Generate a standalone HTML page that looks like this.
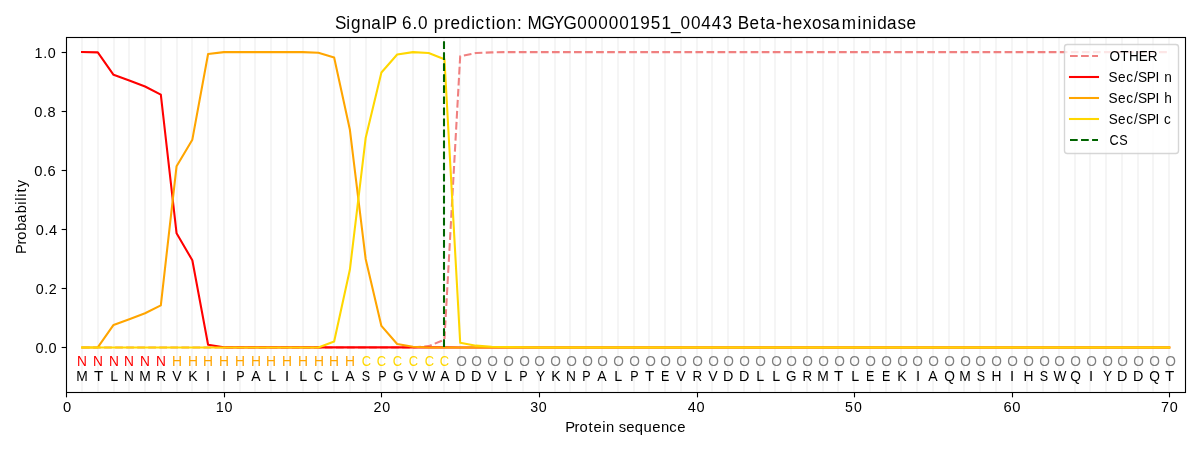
<!DOCTYPE html>
<html><head><meta charset="utf-8"><title>SignalP 6.0 prediction</title>
<style>
html,body{margin:0;padding:0;background:#fff;width:1200px;height:450px;overflow:hidden}
svg{display:block;will-change:transform}
text{font-family:"Liberation Sans",sans-serif;font-kerning:none;white-space:pre}
</style></head><body>
<svg width="1200" height="450" viewBox="0 0 1200 450">
<rect width="1200" height="450" fill="#fff"/>
<defs><clipPath id="ax"><rect x="66.28" y="37.33" width="1118.72" height="354.39"/></clipPath></defs>

<g stroke="#f5f5f5" stroke-width="2.08" clip-path="url(#ax)">
<line x1="82" y1="37.33" x2="82" y2="391.72"/>
<line x1="98" y1="37.33" x2="98" y2="391.72"/>
<line x1="114" y1="37.33" x2="114" y2="391.72"/>
<line x1="129" y1="37.33" x2="129" y2="391.72"/>
<line x1="145" y1="37.33" x2="145" y2="391.72"/>
<line x1="161" y1="37.33" x2="161" y2="391.72"/>
<line x1="177" y1="37.33" x2="177" y2="391.72"/>
<line x1="192" y1="37.33" x2="192" y2="391.72"/>
<line x1="208" y1="37.33" x2="208" y2="391.72"/>
<line x1="224" y1="37.33" x2="224" y2="391.72"/>
<line x1="240" y1="37.33" x2="240" y2="391.72"/>
<line x1="255" y1="37.33" x2="255" y2="391.72"/>
<line x1="271" y1="37.33" x2="271" y2="391.72"/>
<line x1="287" y1="37.33" x2="287" y2="391.72"/>
<line x1="303" y1="37.33" x2="303" y2="391.72"/>
<line x1="318" y1="37.33" x2="318" y2="391.72"/>
<line x1="334" y1="37.33" x2="334" y2="391.72"/>
<line x1="350" y1="37.33" x2="350" y2="391.72"/>
<line x1="366" y1="37.33" x2="366" y2="391.72"/>
<line x1="381" y1="37.33" x2="381" y2="391.72"/>
<line x1="397" y1="37.33" x2="397" y2="391.72"/>
<line x1="413" y1="37.33" x2="413" y2="391.72"/>
<line x1="429" y1="37.33" x2="429" y2="391.72"/>
<line x1="444" y1="37.33" x2="444" y2="391.72"/>
<line x1="460" y1="37.33" x2="460" y2="391.72"/>
<line x1="476" y1="37.33" x2="476" y2="391.72"/>
<line x1="492" y1="37.33" x2="492" y2="391.72"/>
<line x1="507" y1="37.33" x2="507" y2="391.72"/>
<line x1="523" y1="37.33" x2="523" y2="391.72"/>
<line x1="539" y1="37.33" x2="539" y2="391.72"/>
<line x1="555" y1="37.33" x2="555" y2="391.72"/>
<line x1="570" y1="37.33" x2="570" y2="391.72"/>
<line x1="586" y1="37.33" x2="586" y2="391.72"/>
<line x1="602" y1="37.33" x2="602" y2="391.72"/>
<line x1="618" y1="37.33" x2="618" y2="391.72"/>
<line x1="634" y1="37.33" x2="634" y2="391.72"/>
<line x1="649" y1="37.33" x2="649" y2="391.72"/>
<line x1="665" y1="37.33" x2="665" y2="391.72"/>
<line x1="681" y1="37.33" x2="681" y2="391.72"/>
<line x1="697" y1="37.33" x2="697" y2="391.72"/>
<line x1="712" y1="37.33" x2="712" y2="391.72"/>
<line x1="728" y1="37.33" x2="728" y2="391.72"/>
<line x1="744" y1="37.33" x2="744" y2="391.72"/>
<line x1="760" y1="37.33" x2="760" y2="391.72"/>
<line x1="775" y1="37.33" x2="775" y2="391.72"/>
<line x1="791" y1="37.33" x2="791" y2="391.72"/>
<line x1="807" y1="37.33" x2="807" y2="391.72"/>
<line x1="823" y1="37.33" x2="823" y2="391.72"/>
<line x1="838" y1="37.33" x2="838" y2="391.72"/>
<line x1="854" y1="37.33" x2="854" y2="391.72"/>
<line x1="870" y1="37.33" x2="870" y2="391.72"/>
<line x1="886" y1="37.33" x2="886" y2="391.72"/>
<line x1="901" y1="37.33" x2="901" y2="391.72"/>
<line x1="917" y1="37.33" x2="917" y2="391.72"/>
<line x1="933" y1="37.33" x2="933" y2="391.72"/>
<line x1="949" y1="37.33" x2="949" y2="391.72"/>
<line x1="964" y1="37.33" x2="964" y2="391.72"/>
<line x1="980" y1="37.33" x2="980" y2="391.72"/>
<line x1="996" y1="37.33" x2="996" y2="391.72"/>
<line x1="1012" y1="37.33" x2="1012" y2="391.72"/>
<line x1="1027" y1="37.33" x2="1027" y2="391.72"/>
<line x1="1043" y1="37.33" x2="1043" y2="391.72"/>
<line x1="1059" y1="37.33" x2="1059" y2="391.72"/>
<line x1="1075" y1="37.33" x2="1075" y2="391.72"/>
<line x1="1090" y1="37.33" x2="1090" y2="391.72"/>
<line x1="1106" y1="37.33" x2="1106" y2="391.72"/>
<line x1="1122" y1="37.33" x2="1122" y2="391.72"/>
<line x1="1138" y1="37.33" x2="1138" y2="391.72"/>
<line x1="1153" y1="37.33" x2="1153" y2="391.72"/>
<line x1="1169" y1="37.33" x2="1169" y2="391.72"/>
</g>
<g fill="none" stroke-width="2.08" clip-path="url(#ax)" stroke-linejoin="round">
<path d="M82.03 347.42 L97.79 347.42 L113.55 347.42 L129.3 347.42 L145.06 347.42 L160.82 347.42 L176.57 347.42 L192.33 347.42 L208.09 347.42 L223.84 347.42 L239.6 347.42 L255.36 347.42 L271.11 347.42 L286.87 347.42 L302.63 347.42 L318.38 347.42 L334.14 347.42 L349.9 347.42 L365.65 347.42 L381.41 347.42 L397.17 347.42 L412.92 347.42 L428.68 346.12 L444.44 339.63 L460.19 56.23 L475.95 52.99 L491.71 52.39 L507.46 52.1 L523.22 52.1 L538.98 52.1 L554.73 52.1 L570.49 52.1 L586.25 52.1 L602 52.1 L617.76 52.1 L633.52 52.1 L649.27 52.1 L665.03 52.1 L680.79 52.1 L696.54 52.1 L712.3 52.1 L728.06 52.1 L743.81 52.1 L759.57 52.1 L775.33 52.1 L791.08 52.1 L806.84 52.1 L822.6 52.1 L838.35 52.1 L854.11 52.1 L869.87 52.1 L885.62 52.1 L901.38 52.1 L917.14 52.1 L932.89 52.1 L948.65 52.1 L964.41 52.1 L980.16 52.1 L995.92 52.1 L1011.68 52.1 L1027.43 52.1 L1043.19 52.1 L1058.95 52.1 L1074.7 52.1 L1090.46 52.1 L1106.22 52.1 L1121.97 52.1 L1137.73 52.1 L1153.49 52.1 L1169.24 52.1" stroke="#f08080" stroke-dasharray="7.71 3.33" stroke-linecap="butt"/>
<path d="M82.03 52.1 L97.79 52.39 L113.55 74.84 L129.3 80.45 L145.06 86.5 L160.82 94.63 L176.57 233.28 L192.33 260.3 L208.09 344.77 L223.84 347.36 L239.6 347.36 L255.36 347.36 L271.11 347.36 L286.87 347.36 L302.63 347.36 L318.38 347.36 L334.14 347.36 L349.9 347.36 L365.65 347.36 L381.41 347.36 L397.17 347.36 L412.92 347.36 L428.68 347.36 L444.44 347.36 L460.19 347.42 L475.95 347.42 L491.71 347.42 L507.46 347.42 L523.22 347.42 L538.98 347.42 L554.73 347.42 L570.49 347.42 L586.25 347.42 L602 347.42 L617.76 347.42 L633.52 347.42 L649.27 347.42 L665.03 347.42 L680.79 347.42 L696.54 347.42 L712.3 347.42 L728.06 347.42 L743.81 347.42 L759.57 347.42 L775.33 347.42 L791.08 347.42 L806.84 347.42 L822.6 347.42 L838.35 347.42 L854.11 347.42 L869.87 347.42 L885.62 347.42 L901.38 347.42 L917.14 347.42 L932.89 347.42 L948.65 347.42 L964.41 347.42 L980.16 347.42 L995.92 347.42 L1011.68 347.42 L1027.43 347.42 L1043.19 347.42 L1058.95 347.42 L1074.7 347.42 L1090.46 347.42 L1106.22 347.42 L1121.97 347.42 L1137.73 347.42 L1153.49 347.42 L1169.24 347.42" stroke="#ff0000" stroke-linecap="square"/>
<path d="M82.03 347.42 L97.79 347.42 L113.55 324.92 L129.3 319.22 L145.06 313.25 L160.82 305.31 L176.57 166.24 L192.33 139.66 L208.09 54.02 L223.84 52.1 L239.6 52.1 L255.36 52.1 L271.11 52.1 L286.87 52.1 L302.63 52.1 L318.38 52.69 L334.14 57.42 L349.9 129.77 L365.65 258.94 L381.41 325.89 L397.17 344.03 L412.92 346.83 L428.68 347.42 L444.44 347.42 L460.19 347.42 L475.95 347.42 L491.71 347.42 L507.46 347.42 L523.22 347.42 L538.98 347.42 L554.73 347.42 L570.49 347.42 L586.25 347.42 L602 347.42 L617.76 347.42 L633.52 347.42 L649.27 347.42 L665.03 347.42 L680.79 347.42 L696.54 347.42 L712.3 347.42 L728.06 347.42 L743.81 347.42 L759.57 347.42 L775.33 347.42 L791.08 347.42 L806.84 347.42 L822.6 347.42 L838.35 347.42 L854.11 347.42 L869.87 347.42 L885.62 347.42 L901.38 347.42 L917.14 347.42 L932.89 347.42 L948.65 347.42 L964.41 347.42 L980.16 347.42 L995.92 347.42 L1011.68 347.42 L1027.43 347.42 L1043.19 347.42 L1058.95 347.42 L1074.7 347.42 L1090.46 347.42 L1106.22 347.42 L1121.97 347.42 L1137.73 347.42 L1153.49 347.42 L1169.24 347.42" stroke="#ffa500" stroke-linecap="square"/>
<path d="M82.03 347.42 L97.79 347.42 L113.55 347.42 L129.3 347.42 L145.06 347.42 L160.82 347.42 L176.57 347.42 L192.33 347.42 L208.09 347.42 L223.84 347.42 L239.6 347.42 L255.36 347.42 L271.11 347.42 L286.87 347.42 L302.63 347.42 L318.38 347.42 L334.14 341.43 L349.9 269.58 L365.65 138.04 L381.41 72.48 L397.17 54.46 L412.92 52.1 L428.68 52.99 L444.44 59.19 L460.19 342.7 L475.95 345.65 L491.71 346.83 L507.46 347.13 L523.22 347.31 L538.98 347.42 L554.73 347.42 L570.49 347.42 L586.25 347.42 L602 347.42 L617.76 347.42 L633.52 347.42 L649.27 347.42 L665.03 347.42 L680.79 347.42 L696.54 347.42 L712.3 347.42 L728.06 347.42 L743.81 347.42 L759.57 347.42 L775.33 347.42 L791.08 347.42 L806.84 347.42 L822.6 347.42 L838.35 347.42 L854.11 347.42 L869.87 347.42 L885.62 347.42 L901.38 347.42 L917.14 347.42 L932.89 347.42 L948.65 347.42 L964.41 347.42 L980.16 347.42 L995.92 347.42 L1011.68 347.42 L1027.43 347.42 L1043.19 347.42 L1058.95 347.42 L1074.7 347.42 L1090.46 347.42 L1106.22 347.42 L1121.97 347.42 L1137.73 347.42 L1153.49 347.42 L1169.24 347.42" stroke="#ffd700" stroke-linecap="square"/>
<path d="M444 347V40" stroke="#006400" stroke-dasharray="7.71 3.33" stroke-linecap="butt"/>
</g>
<g stroke="#000" stroke-width="1.11" fill="none">
<rect x="66.5" y="37.5" width="1119" height="355" stroke-linejoin="miter"/>
<line x1="66.5" y1="392.5" x2="66.5" y2="397.36"/>
<line x1="224.5" y1="392.5" x2="224.5" y2="397.36"/>
<line x1="381.5" y1="392.5" x2="381.5" y2="397.36"/>
<line x1="539.5" y1="392.5" x2="539.5" y2="397.36"/>
<line x1="697.5" y1="392.5" x2="697.5" y2="397.36"/>
<line x1="854.5" y1="392.5" x2="854.5" y2="397.36"/>
<line x1="1012.5" y1="392.5" x2="1012.5" y2="397.36"/>
<line x1="1169.5" y1="392.5" x2="1169.5" y2="397.36"/>
<line x1="66.5" y1="347.5" x2="61.64" y2="347.5"/>
<line x1="66.5" y1="288.5" x2="61.64" y2="288.5"/>
<line x1="66.5" y1="229.5" x2="61.64" y2="229.5"/>
<line x1="66.5" y1="170.5" x2="61.64" y2="170.5"/>
<line x1="66.5" y1="111.5" x2="61.64" y2="111.5"/>
<line x1="66.5" y1="52.5" x2="61.64" y2="52.5"/>
</g>
<rect x="1064.5" y="44.5" width="114" height="109" rx="2.78" ry="2.78" fill="#fff" fill-opacity="0.8" stroke="#ccc" stroke-opacity="0.8" stroke-width="1.39"/>
<path d="M1070 56H1098" stroke="#f08080" stroke-width="2.08" stroke-dasharray="7.71 3.33" fill="none"/>
<path d="M1070 77H1098" stroke="#ff0000" stroke-width="2.08" stroke-linecap="square" fill="none"/>
<path d="M1070 98H1098" stroke="#ffa500" stroke-width="2.08" stroke-linecap="square" fill="none"/>
<path d="M1070 119H1098" stroke="#ffd700" stroke-width="2.08" stroke-linecap="square" fill="none"/>
<path d="M1070 140H1098" stroke="#006400" stroke-width="2.08" stroke-dasharray="7.71 3.33" fill="none"/>
<text font-size="17.66" transform="translate(0 29) scale(0.9705 1)" x="345.25 356.9 361.55 372.55 382.49 393.73 397.6 408.45 414.34 424.93 430.63 440.91 446.94 458.04 464.2 474.77 485.7 490.03 500.27 506.57 511.13 521.83 532.61 538.02 543.46 557.94 569.91 580.74 594.85 605.67 616.49 627.3 638.12 648.92 659.79 670.6 681.51 691.38 701.11 711.93 722.66 733.48 744.43 754.79 760.17 772.29 783.38 788.86 799.7 806.19 816.85 827.41 836.73 847.08 855.57 867.39 883.57 888.39 899.15 903.8 913.92 924.88 934.06">SignalP 6.0 prediction: MGYG000001951_00443 Beta-hexosaminidase</text>
<text font-size="14.72" transform="translate(0 432) scale(1.0079 1)" x="560.81 570.06 574.96 583.92 588.92 597.45 601.33 609.71 614.01 621.29 629.75 638.56 647.21 655.77 664.08 671.89">Protein sequence</text>
<text font-size="14.72" transform="translate(26 0) rotate(-90) scale(0.9979 1)" x="-254.43 -245.1 -240.15 -231.36 -223.18 -213.82 -205.06 -201.18 -197.29 -193.03 -187.72">Probability</text>
<text x="62.91" y="412" font-size="14.72">0</text>
<text font-size="14.72" transform="translate(0 412) scale(0.9716 1)" x="222.11 231.19">10</text>
<text font-size="14.72" transform="translate(0 412) scale(0.9689 1)" x="385.42 394.61">20</text>
<text font-size="14.72" transform="translate(0 412) scale(0.9679 1)" x="547.74 556.71">30</text>
<text font-size="14.72" transform="translate(0 412) scale(0.9872 1)" x="696.67 705.48">40</text>
<text font-size="14.72" transform="translate(0 412) scale(0.9590 1)" x="881.26 890.4">50</text>
<text font-size="14.72" transform="translate(0 412) scale(1.0036 1)" x="999.91 1008.68">60</text>
<text font-size="14.72" transform="translate(0 412) scale(0.9790 1)" x="1185.88 1194.79">70</text>
<text font-size="14.72" transform="translate(0 353) scale(0.9857 1)" x="35.92 44.66 49.23">0.0</text>
<text font-size="14.72" transform="translate(0 294) scale(0.9701 1)" x="36.79 45.63 50.16">0.2</text>
<text font-size="14.72" transform="translate(0 235) scale(0.9866 1)" x="36.28 45.01 49.64">0.4</text>
<text font-size="14.72" transform="translate(0 176) scale(1.0015 1)" x="34.22 42.86 47.4">0.6</text>
<text font-size="14.72" transform="translate(0 117) scale(0.9940 1)" x="34.51 43.2 47.84">0.8</text>
<text font-size="14.72" transform="translate(0 58) scale(0.9725 1)" x="35.58 44.49 49.15">1.0</text>
<text font-size="14.72" transform="translate(0 61) scale(0.9208 1)" x="1204.81 1216.55 1226.01 1236.74 1246.61">OTHER</text>
<text font-size="14.72" transform="translate(0 82) scale(0.9282 1)" x="1194.34 1204.43 1213.29 1221.74 1226.12 1235.53 1244.84 1249.01 1254.4">Sec/SPI n</text>
<text font-size="14.72" transform="translate(0 103) scale(0.9290 1)" x="1193.3 1203.38 1212.24 1220.68 1225.06 1234.46 1243.76 1247.92 1253.28">Sec/SPI h</text>
<text font-size="14.72" transform="translate(0 124) scale(0.9190 1)" x="1206.37 1216.54 1225.49 1234.01 1238.47 1247.97 1257.34 1261.53 1266.57">Sec/SPI c</text>
<text font-size="14.72" transform="translate(0 145) scale(0.8606 1)" x="1289.12 1300.48">CS</text>
<text font-size="14.72" transform="translate(82 366) scale(0.932 1)" x="-5.32" fill="#ff0000">N</text>
<text font-size="14.72" transform="translate(98 366) scale(0.932 1)" x="-5.32" fill="#ff0000">N</text>
<text font-size="14.72" transform="translate(114 366) scale(0.932 1)" x="-5.32" fill="#ff0000">N</text>
<text font-size="14.72" transform="translate(129 366) scale(0.932 1)" x="-5.32" fill="#ff0000">N</text>
<text font-size="14.72" transform="translate(145 366) scale(0.932 1)" x="-5.32" fill="#ff0000">N</text>
<text font-size="14.72" transform="translate(161 366) scale(0.932 1)" x="-5.32" fill="#ff0000">N</text>
<text font-size="14.72" transform="translate(177 366) scale(0.939 1)" x="-5.32" fill="#ffa500">H</text>
<text font-size="14.72" transform="translate(193 366) scale(0.939 1)" x="-5.32" fill="#ffa500">H</text>
<text font-size="14.72" transform="translate(208 366) scale(0.939 1)" x="-5.32" fill="#ffa500">H</text>
<text font-size="14.72" transform="translate(224 366) scale(0.939 1)" x="-5.32" fill="#ffa500">H</text>
<text font-size="14.72" transform="translate(240 366) scale(0.939 1)" x="-5.32" fill="#ffa500">H</text>
<text font-size="14.72" transform="translate(256 366) scale(0.939 1)" x="-5.32" fill="#ffa500">H</text>
<text font-size="14.72" transform="translate(271 366) scale(0.939 1)" x="-5.32" fill="#ffa500">H</text>
<text font-size="14.72" transform="translate(287 366) scale(0.939 1)" x="-5.32" fill="#ffa500">H</text>
<text font-size="14.72" transform="translate(303 366) scale(0.939 1)" x="-5.32" fill="#ffa500">H</text>
<text font-size="14.72" transform="translate(319 366) scale(0.939 1)" x="-5.32" fill="#ffa500">H</text>
<text font-size="14.72" transform="translate(334 366) scale(0.939 1)" x="-5.32" fill="#ffa500">H</text>
<text font-size="14.72" transform="translate(350 366) scale(0.939 1)" x="-5.32" fill="#ffa500">H</text>
<text font-size="14.72" transform="translate(366.5 366) scale(0.876 1)" x="-5.41" fill="#ffd700">C</text>
<text font-size="14.72" transform="translate(381.5 366) scale(0.876 1)" x="-5.41" fill="#ffd700">C</text>
<text font-size="14.72" transform="translate(397.5 366) scale(0.876 1)" x="-5.41" fill="#ffd700">C</text>
<text font-size="14.72" transform="translate(413.5 366) scale(0.876 1)" x="-5.41" fill="#ffd700">C</text>
<text font-size="14.72" transform="translate(429.5 366) scale(0.876 1)" x="-5.41" fill="#ffd700">C</text>
<text font-size="14.72" transform="translate(444.5 366) scale(0.876 1)" x="-5.41" fill="#ffd700">C</text>
<text font-size="14.72" transform="translate(461.5 366) scale(0.933 1)" x="-5.72" fill="#808080">O</text>
<text font-size="14.72" transform="translate(476.5 366) scale(0.933 1)" x="-5.72" fill="#808080">O</text>
<text font-size="14.72" transform="translate(492.5 366) scale(0.933 1)" x="-5.72" fill="#808080">O</text>
<text font-size="14.72" transform="translate(508.5 366) scale(0.933 1)" x="-5.72" fill="#808080">O</text>
<text font-size="14.72" transform="translate(524.5 366) scale(0.933 1)" x="-5.72" fill="#808080">O</text>
<text font-size="14.72" transform="translate(539.5 366) scale(0.933 1)" x="-5.72" fill="#808080">O</text>
<text font-size="14.72" transform="translate(555.5 366) scale(0.933 1)" x="-5.72" fill="#808080">O</text>
<text font-size="14.72" transform="translate(571.5 366) scale(0.933 1)" x="-5.72" fill="#808080">O</text>
<text font-size="14.72" transform="translate(587.5 366) scale(0.933 1)" x="-5.72" fill="#808080">O</text>
<text font-size="14.72" transform="translate(602.5 366) scale(0.933 1)" x="-5.72" fill="#808080">O</text>
<text font-size="14.72" transform="translate(618.5 366) scale(0.933 1)" x="-5.72" fill="#808080">O</text>
<text font-size="14.72" transform="translate(634.5 366) scale(0.933 1)" x="-5.72" fill="#808080">O</text>
<text font-size="14.72" transform="translate(650.5 366) scale(0.933 1)" x="-5.72" fill="#808080">O</text>
<text font-size="14.72" transform="translate(665.5 366) scale(0.933 1)" x="-5.72" fill="#808080">O</text>
<text font-size="14.72" transform="translate(681.5 366) scale(0.933 1)" x="-5.72" fill="#808080">O</text>
<text font-size="14.72" transform="translate(697.5 366) scale(0.933 1)" x="-5.72" fill="#808080">O</text>
<text font-size="14.72" transform="translate(713.5 366) scale(0.933 1)" x="-5.72" fill="#808080">O</text>
<text font-size="14.72" transform="translate(728.5 366) scale(0.933 1)" x="-5.72" fill="#808080">O</text>
<text font-size="14.72" transform="translate(744.5 366) scale(0.933 1)" x="-5.72" fill="#808080">O</text>
<text font-size="14.72" transform="translate(760.5 366) scale(0.933 1)" x="-5.72" fill="#808080">O</text>
<text font-size="14.72" transform="translate(776.5 366) scale(0.933 1)" x="-5.72" fill="#808080">O</text>
<text font-size="14.72" transform="translate(791.5 366) scale(0.933 1)" x="-5.72" fill="#808080">O</text>
<text font-size="14.72" transform="translate(807.5 366) scale(0.933 1)" x="-5.72" fill="#808080">O</text>
<text font-size="14.72" transform="translate(823.5 366) scale(0.933 1)" x="-5.72" fill="#808080">O</text>
<text font-size="14.72" transform="translate(839.5 366) scale(0.933 1)" x="-5.72" fill="#808080">O</text>
<text font-size="14.72" transform="translate(854.5 366) scale(0.933 1)" x="-5.72" fill="#808080">O</text>
<text font-size="14.72" transform="translate(870.5 366) scale(0.933 1)" x="-5.72" fill="#808080">O</text>
<text font-size="14.72" transform="translate(886.5 366) scale(0.933 1)" x="-5.72" fill="#808080">O</text>
<text font-size="14.72" transform="translate(902.5 366) scale(0.933 1)" x="-5.72" fill="#808080">O</text>
<text font-size="14.72" transform="translate(917.5 366) scale(0.933 1)" x="-5.72" fill="#808080">O</text>
<text font-size="14.72" transform="translate(933.5 366) scale(0.933 1)" x="-5.72" fill="#808080">O</text>
<text font-size="14.72" transform="translate(949.5 366) scale(0.933 1)" x="-5.72" fill="#808080">O</text>
<text font-size="14.72" transform="translate(965.5 366) scale(0.933 1)" x="-5.72" fill="#808080">O</text>
<text font-size="14.72" transform="translate(980.5 366) scale(0.933 1)" x="-5.72" fill="#808080">O</text>
<text font-size="14.72" transform="translate(996.5 366) scale(0.933 1)" x="-5.72" fill="#808080">O</text>
<text font-size="14.72" transform="translate(1012.5 366) scale(0.933 1)" x="-5.72" fill="#808080">O</text>
<text font-size="14.72" transform="translate(1028.5 366) scale(0.933 1)" x="-5.72" fill="#808080">O</text>
<text font-size="14.72" transform="translate(1044.5 366) scale(0.933 1)" x="-5.72" fill="#808080">O</text>
<text font-size="14.72" transform="translate(1059.5 366) scale(0.933 1)" x="-5.72" fill="#808080">O</text>
<text font-size="14.72" transform="translate(1075.5 366) scale(0.933 1)" x="-5.72" fill="#808080">O</text>
<text font-size="14.72" transform="translate(1091.5 366) scale(0.933 1)" x="-5.72" fill="#808080">O</text>
<text font-size="14.72" transform="translate(1107.5 366) scale(0.933 1)" x="-5.72" fill="#808080">O</text>
<text font-size="14.72" transform="translate(1122.5 366) scale(0.933 1)" x="-5.72" fill="#808080">O</text>
<text font-size="14.72" transform="translate(1138.5 366) scale(0.933 1)" x="-5.72" fill="#808080">O</text>
<text font-size="14.72" transform="translate(1154.5 366) scale(0.933 1)" x="-5.72" fill="#808080">O</text>
<text font-size="14.72" transform="translate(1170.5 366) scale(0.933 1)" x="-5.72" fill="#808080">O</text>
<text font-size="14.72" transform="translate(82 381) scale(0.941 1)" x="-6.13">M</text>
<text font-size="14.72" transform="translate(98.5 381) scale(1.029 1)" x="-4.49">T</text>
<text font-size="14.72" transform="translate(114.5 381) scale(0.971 1)" x="-4.45">L</text>
<text font-size="14.72" transform="translate(129 381) scale(0.932 1)" x="-5.32">N</text>
<text font-size="14.72" transform="translate(145 381) scale(0.941 1)" x="-6.13">M</text>
<text font-size="14.72" transform="translate(161.5 381) scale(0.903 1)" x="-5.58">R</text>
<text font-size="14.72" transform="translate(177 381) scale(0.958 1)" x="-4.91">V</text>
<text font-size="14.72" transform="translate(193.5 381) scale(0.952 1)" x="-5.43">K</text>
<text x="205.96" y="381" font-size="14.72">I</text>
<text x="221.96" y="381" font-size="14.72">I</text>
<text font-size="14.72" transform="translate(240.5 381) scale(0.850 1)" x="-5.12">P</text>
<text font-size="14.72" transform="translate(256 381) scale(0.951 1)" x="-4.91">A</text>
<text font-size="14.72" transform="translate(272.5 381) scale(0.971 1)" x="-4.45">L</text>
<text x="284.96" y="381" font-size="14.72">I</text>
<text font-size="14.72" transform="translate(303.5 381) scale(0.971 1)" x="-4.45">L</text>
<text font-size="14.72" transform="translate(318.5 381) scale(0.876 1)" x="-5.41">C</text>
<text font-size="14.72" transform="translate(335.5 381) scale(0.971 1)" x="-4.45">L</text>
<text font-size="14.72" transform="translate(350 381) scale(0.951 1)" x="-4.91">A</text>
<text font-size="14.72" transform="translate(366 381) scale(0.850 1)" x="-4.9">S</text>
<text font-size="14.72" transform="translate(382.5 381) scale(0.850 1)" x="-5.12">P</text>
<text font-size="14.72" transform="translate(398 381) scale(0.920 1)" x="-5.54">G</text>
<text font-size="14.72" transform="translate(413 381) scale(0.958 1)" x="-4.91">V</text>
<text font-size="14.72" transform="translate(429 381) scale(0.930 1)" x="-6.95">W</text>
<text font-size="14.72" transform="translate(445 381) scale(0.951 1)" x="-4.91">A</text>
<text font-size="14.72" transform="translate(460.5 381) scale(0.976 1)" x="-5.57">D</text>
<text font-size="14.72" transform="translate(476.5 381) scale(0.976 1)" x="-5.57">D</text>
<text font-size="14.72" transform="translate(492 381) scale(0.958 1)" x="-4.91">V</text>
<text font-size="14.72" transform="translate(508.5 381) scale(0.971 1)" x="-4.45">L</text>
<text font-size="14.72" transform="translate(523.5 381) scale(0.850 1)" x="-5.12">P</text>
<text font-size="14.72" transform="translate(540.5 381) scale(0.931 1)" x="-4.91">Y</text>
<text font-size="14.72" transform="translate(556.5 381) scale(0.952 1)" x="-5.43">K</text>
<text font-size="14.72" transform="translate(571 381) scale(0.932 1)" x="-5.32">N</text>
<text font-size="14.72" transform="translate(586.5 381) scale(0.850 1)" x="-5.12">P</text>
<text font-size="14.72" transform="translate(602 381) scale(0.951 1)" x="-4.91">A</text>
<text font-size="14.72" transform="translate(618.5 381) scale(0.971 1)" x="-4.45">L</text>
<text font-size="14.72" transform="translate(634.5 381) scale(0.850 1)" x="-5.12">P</text>
<text font-size="14.72" transform="translate(649.5 381) scale(1.029 1)" x="-4.49">T</text>
<text font-size="14.72" transform="translate(665.5 381) scale(0.850 1)" x="-5.2">E</text>
<text font-size="14.72" transform="translate(681 381) scale(0.958 1)" x="-4.91">V</text>
<text font-size="14.72" transform="translate(697.5 381) scale(0.903 1)" x="-5.58">R</text>
<text font-size="14.72" transform="translate(713 381) scale(0.958 1)" x="-4.91">V</text>
<text font-size="14.72" transform="translate(728.5 381) scale(0.976 1)" x="-5.57">D</text>
<text font-size="14.72" transform="translate(744.5 381) scale(0.976 1)" x="-5.57">D</text>
<text font-size="14.72" transform="translate(760.5 381) scale(0.971 1)" x="-4.45">L</text>
<text font-size="14.72" transform="translate(776.5 381) scale(0.971 1)" x="-4.45">L</text>
<text font-size="14.72" transform="translate(791 381) scale(0.920 1)" x="-5.54">G</text>
<text font-size="14.72" transform="translate(807.5 381) scale(0.903 1)" x="-5.58">R</text>
<text font-size="14.72" transform="translate(823 381) scale(0.941 1)" x="-6.13">M</text>
<text font-size="14.72" transform="translate(838.5 381) scale(1.029 1)" x="-4.49">T</text>
<text font-size="14.72" transform="translate(855.5 381) scale(0.971 1)" x="-4.45">L</text>
<text font-size="14.72" transform="translate(870.5 381) scale(0.850 1)" x="-5.2">E</text>
<text font-size="14.72" transform="translate(886.5 381) scale(0.850 1)" x="-5.2">E</text>
<text font-size="14.72" transform="translate(902.5 381) scale(0.952 1)" x="-5.43">K</text>
<text x="915.96" y="381" font-size="14.72">I</text>
<text font-size="14.72" transform="translate(933 381) scale(0.951 1)" x="-4.91">A</text>
<text font-size="14.72" transform="translate(949.5 381) scale(0.933 1)" x="-5.72">Q</text>
<text font-size="14.72" transform="translate(965 381) scale(0.941 1)" x="-6.13">M</text>
<text font-size="14.72" transform="translate(981 381) scale(0.850 1)" x="-4.9">S</text>
<text font-size="14.72" transform="translate(996.5 381) scale(0.939 1)" x="-5.32">H</text>
<text x="1009.96" y="381" font-size="14.72">I</text>
<text font-size="14.72" transform="translate(1028.5 381) scale(0.939 1)" x="-5.32">H</text>
<text font-size="14.72" transform="translate(1044 381) scale(0.850 1)" x="-4.9">S</text>
<text font-size="14.72" transform="translate(1060 381) scale(0.930 1)" x="-6.95">W</text>
<text font-size="14.72" transform="translate(1075.5 381) scale(0.933 1)" x="-5.72">Q</text>
<text x="1088.96" y="381" font-size="14.72">I</text>
<text font-size="14.72" transform="translate(1107.5 381) scale(0.931 1)" x="-4.91">Y</text>
<text font-size="14.72" transform="translate(1122.5 381) scale(0.976 1)" x="-5.57">D</text>
<text font-size="14.72" transform="translate(1138.5 381) scale(0.976 1)" x="-5.57">D</text>
<text font-size="14.72" transform="translate(1154.5 381) scale(0.933 1)" x="-5.72">Q</text>
<text font-size="14.72" transform="translate(1169.5 381) scale(1.029 1)" x="-4.49">T</text>
</svg>
</body></html>
